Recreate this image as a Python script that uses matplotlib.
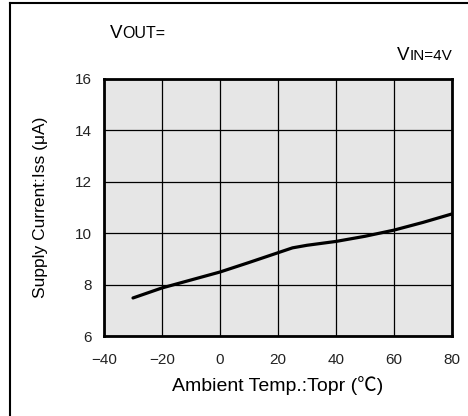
import matplotlib
matplotlib.use("Agg")
import matplotlib.pyplot as plt
from matplotlib.lines import Line2D

plt.rcParams['font.family'] = ['Liberation Sans', 'Noto Sans CJK JP', 'DejaVu Sans']

temp = [-30, -20, -10, 0, 10, 20, 25, 30, 40, 50, 55, 60, 70, 80]
iss = [7.48, 7.87, 8.18, 8.49, 8.86, 9.24, 9.43, 9.53, 9.68, 9.88, 10.0, 10.12, 10.42, 10.75]
xticks = [-40, -20, 0, 20, 40, 60, 80]
yticks = [6, 8, 10, 12, 14, 16]

W, H = 468, 416
fig = plt.figure(figsize=(W / 100, H / 100), dpi=100)
fig.patch.set_facecolor('white')

# frame lines (left and top)
fig.add_artist(Line2D([10 / W, 10 / W], [0, 1 - 3 / H], color='black', lw=1.5, transform=fig.transFigure))
fig.add_artist(Line2D([10 / W, 1], [1 - 3 / H, 1 - 3 / H], color='black', lw=1.5, transform=fig.transFigure))

ax = fig.add_axes([104 / W, (H - 336) / H, 348 / W, 257 / H])
ax.set_facecolor('#e6e6e6')
ax.plot(temp, iss, color='black', lw=2.3, solid_capstyle='round', zorder=3)
ax.set_xlim(-40, 80)
ax.set_ylim(6, 16)
ax.set_xticks(xticks)
ax.set_yticks(yticks)
ax.set_xticklabels(['\u221240', '\u221220', '0', '20', '40', '60', '80'])
ax.grid(True, color='black', lw=0.9)
ax.tick_params(length=0, labelsize=11, colors='#222222')
ax.tick_params(axis='x', pad=12)
ax.tick_params(axis='y', pad=9)
for s in ax.spines.values():
    s.set_linewidth(2)
    s.set_color('black')

ax.set_xlabel('Ambient Temp.:Topr (\u2103)', fontsize=14, labelpad=7)
ax.set_ylabel('Supply Current:Iss (\u03bcA)', fontsize=12.5, labelpad=19)

fig.canvas.draw()
renderer = fig.canvas.get_renderer()

# VOUT=
t1 = fig.text(110 / W, 1 - 37.5 / H, 'V', fontsize=13.5, va='baseline', ha='left')
ext1 = t1.get_window_extent(renderer)
fig.text(ext1.x1 / W, 1 - 37.5 / H, 'OUT=', fontsize=11.5, va='baseline', ha='left')

# VIN=4V right aligned at x=452
t2 = fig.text(452 / W, 1 - 60 / H, 'IN=4V', fontsize=11, va='baseline', ha='right')
ext2 = t2.get_window_extent(renderer)
fig.text(ext2.x0 / W, 1 - 60 / H, 'V', fontsize=13.5, va='baseline', ha='right')

fig.savefig('out.png', dpi=100)
